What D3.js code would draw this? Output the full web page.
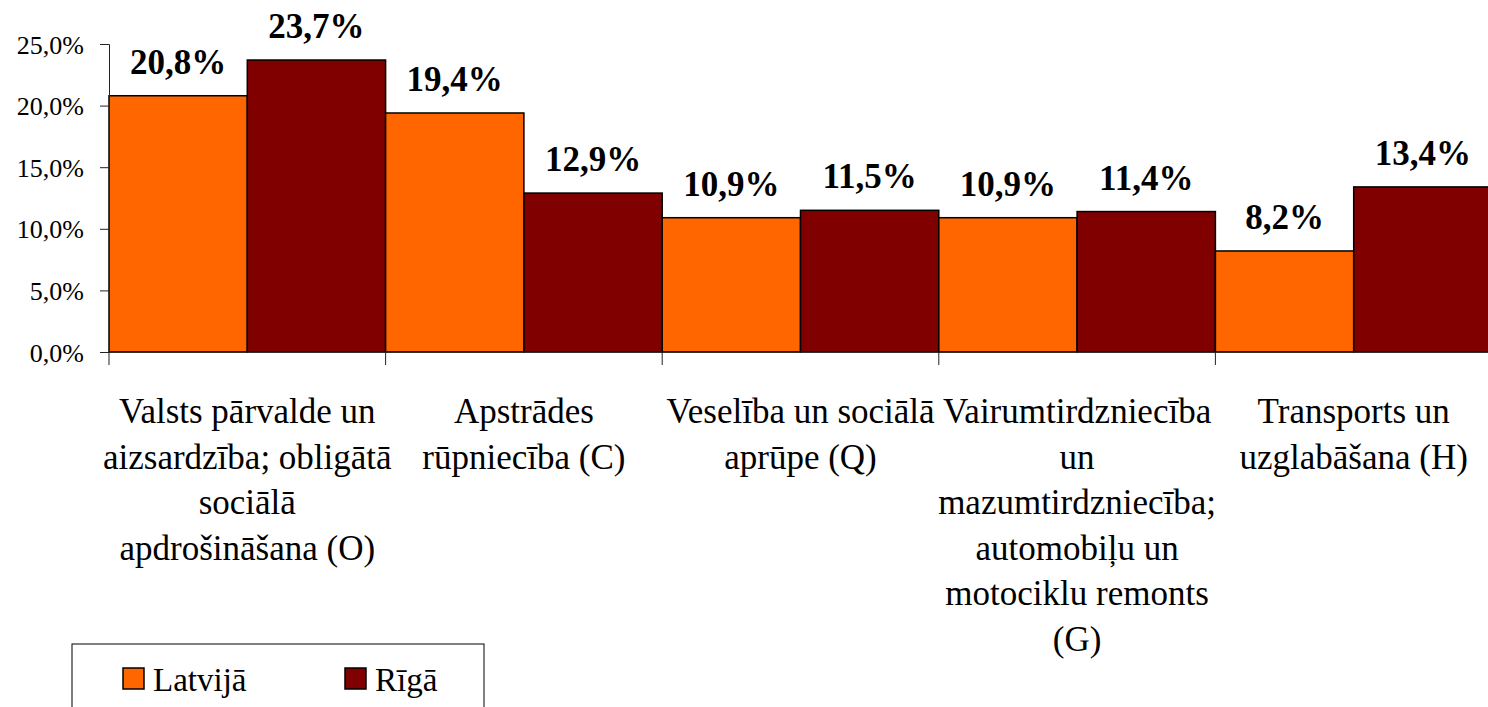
<!DOCTYPE html>
<html>
<head>
<meta charset="utf-8">
<script src="https://cdn.jsdelivr.net/npm/d3@7"></script>
<style>
	body { margin: 0; background: #fff; }
	svg text { font-family: "Times New Roman", "Liberation Serif", "DejaVu Serif", serif; fill: #000; }
</style>
</head>
<body>
<div id="chart"></div>
<script>
// data
var categories = [
	["Valsts pārvalde un", "aizsardzība; obligātā", "sociālā", "apdrošināšana (O)"],
	["Apstrādes", "rūpniecība (C)"],
	["Veselība un sociālā", "aprūpe (Q)"],
	["Vairumtirdzniecība", "un", "mazumtirdzniecība;", "automobiļu un", "motociklu remonts", "(G)"],
	["Transports un", "uzglabāšana (H)"]
];
var seriesNames = ["Latvijā", "Rīgā"];
var latvija = [20.8, 19.4, 10.9, 10.9, 8.2];
var riga = [23.7, 12.9, 11.5, 11.4, 13.4];
var yTicks = [0, 5, 10, 15, 20, 25];
var colors = ["#ff6600", "#800000"];

var W = 1488, H = 707;
var serif = "'Times New Roman', 'Liberation Serif', 'DejaVu Serif', serif";
var plot = { left: 109, right: 1492, top: 44, bottom: 352 };

var svg = d3.select("#chart").append("svg")
	.attr("width", W).attr("height", H)
	.attr("font-family", serif);

var x = d3.scaleBand()
	.domain(d3.range(categories.length))
	.range([plot.left, plot.right]);

var xs = d3.scaleBand()
	.domain([0, 1])
	.range([0, x.bandwidth()]);

var y = d3.scaleLinear()
	.domain([0, 25])
	.range([plot.bottom, plot.top]);

var fmt = function(v, d) { return v.toFixed(d).replace(".", ",") + "%"; };

// bars
var groups = svg.selectAll(".grp")
	.data(categories.map(function(c, i) { return [latvija[i], riga[i]]; }))
	.enter().append("g")
	.attr("class", "grp")
	.attr("transform", (d, i) => "translate(" + x(i) + ",0)");

groups.selectAll("rect")
	.data(d => d)
	.enter().append("rect")
	.attr("x", (d, j) => xs(j))
	.attr("y", d => y(d))
	.attr("width", xs.bandwidth())
	.attr("height", d => y(0) - y(d))
	.style("fill", (d, j) => colors[j])
	.style("stroke", "#000")
	.style("stroke-width", 1.5);

groups.selectAll(".val")
	.data(d => d)
	.enter().append("text")
	.attr("class", "val")
	.attr("x", (d, j) => xs(j) + xs.bandwidth() / 2)
	.attr("y", d => y(d) - 22)
	.attr("text-anchor", "middle")
	.style("font-family", serif)
	.style("font-size", "35px")
	.style("font-weight", "bold")
	.text(d => fmt(d, 1));

// y axis
var yAxis = svg.append("g")
	.attr("transform", "translate(" + plot.left + ",0)")
	.call(d3.axisLeft(y).tickValues(yTicks).tickSize(9).tickPadding(16).tickFormat(d => fmt(d, 1)));

yAxis.attr("font-family", serif);
yAxis.selectAll("text")
	.style("font-family", serif)
	.style("font-size", "26px")
	.attr("dy", "0.35em");
yAxis.selectAll("line, path").attr("stroke", "#222");

// x axis
var xAxis = svg.append("g")
	.attr("transform", "translate(0," + plot.bottom + ")");

xAxis.append("line")
	.attr("x1", plot.left).attr("x2", plot.right)
	.attr("stroke", "#222");

xAxis.selectAll(".tk")
	.data(d3.range(categories.length + 1))
	.enter().append("line")
	.attr("x1", i => i < categories.length ? x(i) : plot.right)
	.attr("x2", i => i < categories.length ? x(i) : plot.right)
	.attr("y1", 0).attr("y2", 13)
	.attr("stroke", "#222");

var labels = svg.selectAll(".cat")
	.data(categories)
	.enter().append("text")
	.attr("class", "cat")
	.attr("text-anchor", "middle")
	.style("font-family", serif)
	.style("font-size", "35px");

labels.selectAll("tspan")
	.data((d, i) => d.map(l => ({ line: l, i: i })))
	.enter().append("tspan")
	.attr("x", d => x(d.i) + x.bandwidth() / 2)
	.attr("y", (d, k) => 423 + k * 45.5)
	.text(d => d.line);

// legend
var legend = svg.append("g");

legend.append("rect")
	.attr("x", 72).attr("y", 644)
	.attr("width", 412).attr("height", 80)
	.style("fill", "#fff")
	.style("stroke", "#000")
	.style("stroke-width", 1);

var lx = [123, 345];

var items = legend.selectAll(".item")
	.data(seriesNames)
	.enter().append("g")
	.attr("class", "item")
	.attr("transform", (d, i) => "translate(" + lx[i] + ",668)");

items.append("rect")
	.attr("width", 21).attr("height", 21)
	.style("fill", (d, i) => colors[i])
	.style("stroke", "#000")
	.style("stroke-width", 1.5);

items.append("text")
	.attr("x", 30).attr("y", 23)
	.style("font-family", serif)
	.style("font-size", "33px")
	.text(d => d);
</script>
</body>
</html>
